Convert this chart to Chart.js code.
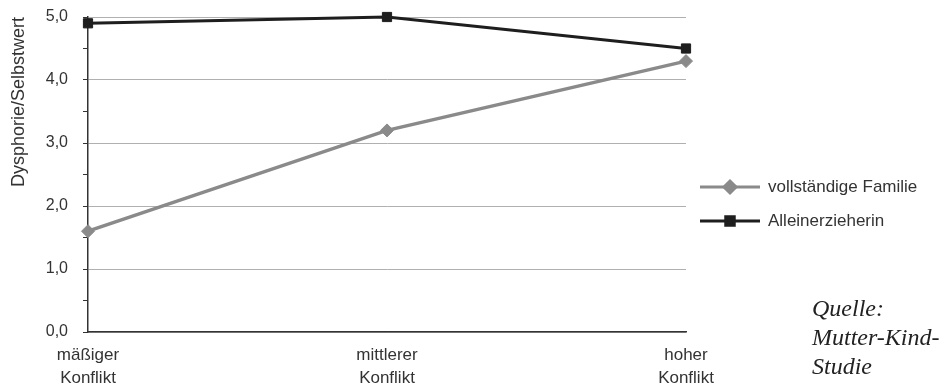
<!DOCTYPE html>
<html>
<head>
<meta charset="utf-8">
<script src="https://cdn.jsdelivr.net/npm/chart.js@4.4.0/dist/chart.umd.min.js"></script>
<style>
	html, body { margin: 0; padding: 0; background: #fff; }
	#wrap { position: relative; width: 949px; height: 386px; }
	#source {
		position: absolute; left: 812px; top: 294px;
		font-family: "Liberation Serif", serif; font-style: italic;
		font-size: 24px; line-height: 29px; color: #222;
	}
</style>
</head>
<body>
<div id="wrap">
	<canvas id="myChart" width="949" height="386"></canvas>
	<div id="source">Quelle:<br>Mutter-Kind-<br>Studie</div>
</div>
<script>
// categories and values
var categories = [['mäßiger', 'Konflikt'], ['mittlerer', 'Konflikt'], ['hoher', 'Konflikt']];
var seriesNames = ['vollständige Familie', 'Alleinerzieherin'];
var vollstaendig = [1.6, 3.2, 4.3];
var alleinerziehend = [4.9, 5.0, 4.5];
var yTitle = 'Dysphorie/Selbstwert';

var fontFamily = '"Liberation Sans", Arial, sans-serif';

// legend drawn by hand: line with the marker in its middle
var legendLines = {
	id: 'legendLines',
	afterDraw: function(chart) {
		var ctx = chart.ctx;
		var rows = [187, 221];
		chart.data.datasets.forEach(function(ds, i) {
			var y = rows[i];
			ctx.save();
			ctx.strokeStyle = ds.borderColor;
			ctx.lineWidth = 3;
			ctx.beginPath();
			ctx.moveTo(700, y);
			ctx.lineTo(760, y);
			ctx.stroke();
			ctx.fillStyle = ds.pointBackgroundColor;
			ctx.strokeStyle = ds.pointBackgroundColor;
			Chart.helpers.drawPoint(ctx, {pointStyle: ds.pointStyle, radius: ds.pointRadius - 0.5, borderWidth: 1}, 730, y);
			ctx.fillStyle = '#333';
			ctx.font = '17px ' + fontFamily;
			ctx.textBaseline = 'middle';
			ctx.fillText(ds.label, 768, y);
			ctx.restore();
		});
	}
};

var ctx = document.getElementById('myChart').getContext('2d');
var myChart = new Chart(ctx, {
	type: 'line',
	data: {
		labels: categories,
		datasets: [{
			label: seriesNames[0],
			data: vollstaendig,
			borderColor: '#8a8a8a',
			borderWidth: 3.5,
			pointStyle: 'rectRot',
			pointRadius: 6.5,
			pointBackgroundColor: '#8a8a8a',
			pointBorderColor: '#8a8a8a',
			pointBorderWidth: 1,
			tension: 0,
			clip: false
		}, {
			label: seriesNames[1],
			data: alleinerziehend,
			borderColor: '#1e1e1e',
			borderWidth: 3,
			pointStyle: 'rect',
			pointRadius: 6.5,
			pointBackgroundColor: '#1e1e1e',
			pointBorderColor: '#1e1e1e',
			pointBorderWidth: 1,
			tension: 0,
			clip: false
		}]
	},
	options: {
		responsive: false,
		animation: false,
		layout: { padding: { top: 17, right: 263, left: 0, bottom: 0 } },
		plugins: {
			legend: { display: false },
			tooltip: { enabled: false }
		},
		scales: {
			x: {
				offset: false,
				grid: { display: false, drawTicks: false },
				border: { display: true, color: '#333', width: 1.5 },
				ticks: {
					color: '#333',
					font: { family: fontFamily, size: 17, lineHeight: 1.35 },
					padding: 12,
					maxRotation: 0,
					autoSkip: false
				},
				afterFit: function(scale) { scale.height = 54; }
			},
			y: {
				min: 0,
				max: 5,
				border: { display: true, color: '#333', width: 1.5 },
				grid: {
					color: function(c) { return c.tick && c.tick.value % 1 === 0 ? '#b0b0b0' : 'rgba(0,0,0,0)'; },
					lineWidth: 1,
					tickColor: '#333',
					tickLength: 5
				},
				ticks: {
					stepSize: 0.5,
					color: '#333',
					font: { family: fontFamily, size: 16 },
					padding: 15,
					callback: function(v) { return v % 1 === 0 ? v.toFixed(1).replace('.', ',') : ''; }
				},
				title: {
					display: true,
					text: yTitle,
					align: 'end',
					color: '#333',
					font: { family: fontFamily, size: 18 },
					padding: { top: 8, bottom: 0 }
				},
				afterFit: function(scale) {
					scale.width = 88;
					scale.paddingTop = 0;
					scale.paddingBottom = 0;
				}
			}
		}
	},
	plugins: [legendLines]
});
</script>
</body>
</html>
